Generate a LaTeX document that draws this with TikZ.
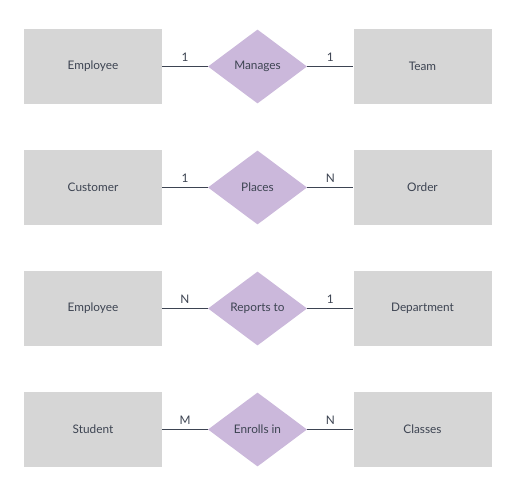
\documentclass[tikz,border=0pt]{standalone}
\usepackage{fontspec}
\setmainfont{Lato}
\usetikzlibrary{positioning,shapes.geometric}

\definecolor{entgray}{HTML}{D6D6D6}
\definecolor{relpurple}{HTML}{CBB8DB}
\definecolor{inkgray}{HTML}{3D4452}

\begin{document}
\begin{tikzpicture}[x=1pt, y=-1pt,
    every node/.style = {font=\fontsize{11.8}{13}\selectfont, text=inkgray},
    entity/.style = {shape=rectangle, fill=entgray,
      minimum width=138pt, minimum height=75pt, inner sep=0pt},
    relation/.style = {shape=diamond, fill=relpurple, aspect=1.34,
      minimum width=99pt, minimum height=74pt, inner sep=0pt},
    link/.style = {draw=inkgray, line width=1.1pt},
    card/.style = {above=3pt, inner sep=1pt}]
    \useasboundingbox (0,0) rectangle (524,495);
    % one row: left entity, relation, right entity
    \node[entity] (emp1) at (93,66.5) {Employee};
    \node[relation] (manages) at (257.5,66.5) {Manages};
    \node[entity] (team) at (422.5,66.5) {Team};
    \draw[link] (emp1) -- node[card] {1} (manages);
    \draw[link] (manages) -- node[card] {1} (team);

    \node[entity] (customer) at (93,187.5) {Customer};
    \node[relation] (places) at (257.5,187.5) {Places};
    \node[entity] (order) at (422.5,187.5) {Order};
    \draw[link] (customer) -- node[card] {1} (places);
    \draw[link] (places) -- node[card] {N} (order);

    \node[entity] (emp2) at (93,308.5) {Employee};
    \node[relation] (reports) at (257.5,308.5) {Reports to};
    \node[entity] (dept) at (422.5,308.5) {Department};
    \draw[link] (emp2) -- node[card] {N} (reports);
    \draw[link] (reports) -- node[card] {1} (dept);

    \node[entity] (student) at (93,429.5) {Student};
    \node[relation] (enrolls) at (257.5,429.5) {Enrolls in};
    \node[entity] (classes) at (422.5,429.5) {Classes};
    \draw[link] (student) -- node[card] {M} (enrolls);
    \draw[link] (enrolls) -- node[card] {N} (classes);
\end{tikzpicture}
\end{document}
